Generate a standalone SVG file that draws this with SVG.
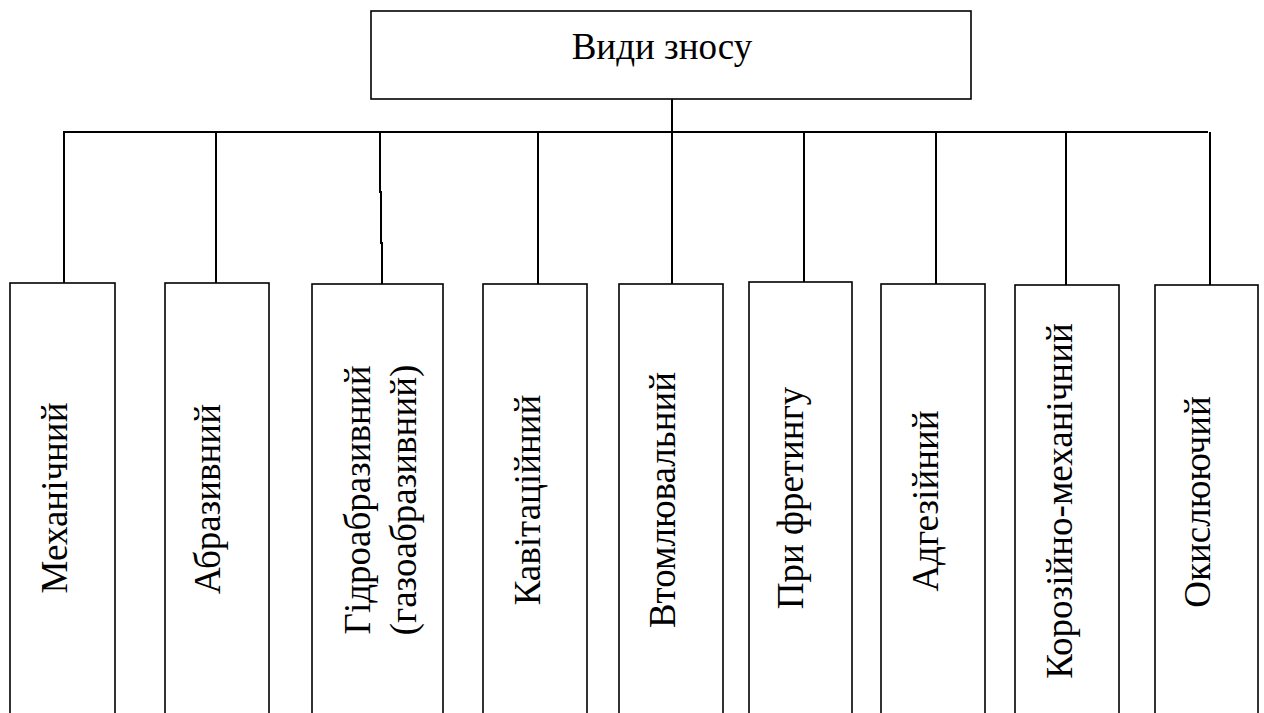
<svg xmlns="http://www.w3.org/2000/svg" width="1264" height="713" viewBox="0 0 1264 713">
<style>
.box{fill:#fff;stroke:#000;stroke-width:1.6}
.con{fill:none;stroke:#000;stroke-width:2}
.t{font-family:"Liberation Serif","Times New Roman",serif;font-size:37px;fill:#000}
.v{text-anchor:middle}
</style>
<rect width="1264" height="713" fill="#fff"/>
<g id="connectors">
<line class="con" x1="672" y1="99" x2="672" y2="132"/>
<line class="con" x1="63" y1="132" x2="1208" y2="132"/>
<line class="con" x1="64" y1="132" x2="64" y2="283"/>
<line class="con" x1="216" y1="132" x2="216" y2="283"/>
<polyline class="con" points="380,132 380,192 381,192 381,243 382,243 382,284"/>
<line class="con" x1="538" y1="132" x2="538" y2="284"/>
<line class="con" x1="672" y1="132" x2="672" y2="284"/>
<line class="con" x1="804" y1="132" x2="804" y2="282"/>
<line class="con" x1="936" y1="132" x2="936" y2="284"/>
<line class="con" x1="1066" y1="132" x2="1066" y2="285"/>
<line class="con" x1="1210" y1="132" x2="1210" y2="285"/>
</g>
<g id="root">
<rect class="box" x="371" y="11" width="600" height="88"/>
<text class="t v" x="662" y="59">Види зносу</text>
</g>
<g id="n1">
<rect class="box" x="10" y="283" width="105" height="460"/>
<text class="t v" transform="translate(67,498) rotate(-90)">Механічний</text>
</g>
<g id="n2">
<rect class="box" x="165" y="283" width="104" height="460"/>
<text class="t v" transform="translate(220,499) rotate(-90)">Абразивний</text>
</g>
<g id="n3">
<rect class="box" x="312" y="284" width="131" height="460"/>
<text class="t v" transform="translate(370,500) rotate(-90)">Гідроабразивний</text>
<text class="t v" transform="translate(416,500) rotate(-90)">(газоабразивний)</text>
</g>
<g id="n4">
<rect class="box" x="483" y="284" width="104" height="460"/>
<text class="t v" transform="translate(540,500) rotate(-90)">Кавітаційний</text>
</g>
<g id="n5">
<rect class="box" x="619" y="284" width="104" height="460"/>
<text class="t v" transform="translate(675,500) rotate(-90)">Втомлювальний</text>
</g>
<g id="n6">
<rect class="box" x="749" y="282" width="103" height="460"/>
<text class="t v" transform="translate(803,498) rotate(-90)">При фретингу</text>
</g>
<g id="n7">
<rect class="box" x="881" y="284" width="104" height="460"/>
<text class="t v" transform="translate(938,501) rotate(-90)">Адгезійний</text>
</g>
<g id="n8">
<rect class="box" x="1015" y="285" width="104" height="460"/>
<text class="t v" transform="translate(1072,501) rotate(-90)">Корозійно-механічний</text>
</g>
<g id="n9">
<rect class="box" x="1155" y="285" width="103" height="460"/>
<text class="t v" transform="translate(1210,502) rotate(-90)">Окислюючий</text>
</g>
</svg>
